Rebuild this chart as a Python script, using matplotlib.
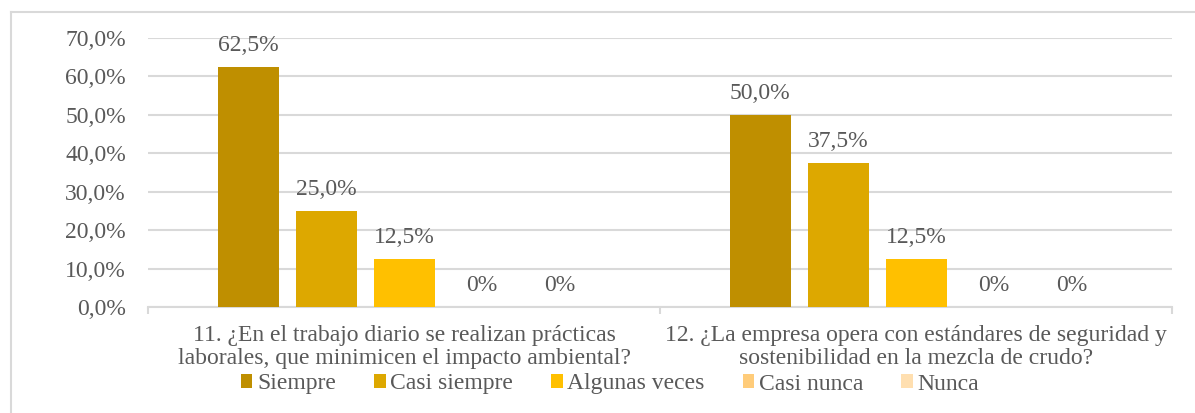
import matplotlib
matplotlib.use('Agg')
import matplotlib.pyplot as plt
from matplotlib.lines import Line2D
from matplotlib.ticker import FuncFormatter, MultipleLocator
import numpy as np

plt.rcParams['font.family'] = ['Liberation Serif', 'DejaVu Serif']

# data
preguntas = ['11. ¿En el trabajo diario se realizan prácticas\nlaborales, que minimicen el impacto ambiental?',
             '12. ¿La empresa opera con estándares de seguridad y\nsostenibilidad en la mezcla de crudo?']
respuestas = ['Siempre', 'Casi siempre', 'Algunas veces', 'Casi nunca', 'Nunca']
siempre = [62.5, 50.0]
casi_siempre = [25.0, 37.5]
algunas_veces = [12.5, 12.5]
casi_nunca = [0.0, 0.0]
nunca = [0.0, 0.0]
series = [siempre, casi_siempre, algunas_veces, casi_nunca, nunca]
colores = ['#BF8F00', '#DDA800', '#FFC000', '#FFCC7A', '#FFDFB0']

TXT = '#595959'
GRID = '#D9D9D9'
FS = 17

fig = plt.figure(figsize=(11.95, 4.13), dpi=100)
ax = fig.add_axes([148/1195, 1-307/413, (1172-148)/1195, (307-38)/413])

x = np.arange(len(preguntas))
paso = 78/512
ancho = 61/512
for i, (vals, col, nom) in enumerate(zip(series, colores, respuestas)):
    pos = x + (i-2)*paso
    bars = ax.bar(pos, vals, width=ancho, color=col, label=nom, zorder=3)
    for b, v in zip(bars, vals):
        txt = '0%' if v == 0 else ('%.1f%%' % v).replace('.', ',')
        ax.annotate(txt, (b.get_x()+b.get_width()/2, v), xytext=(0, 8),
                    textcoords='offset points', ha='center', va='bottom',
                    fontsize=FS, color=TXT)

ax.set_xlim(-0.5, 1.5)
ax.set_ylim(0, 70)
ax.yaxis.set_major_locator(MultipleLocator(10))
ax.yaxis.set_major_formatter(FuncFormatter(lambda v, p: ('%.1f%%' % v).replace('.', ',')))
ax.grid(axis='y', color=GRID, linewidth=1.5, zorder=0)
for s in ['top', 'right', 'left']:
    ax.spines[s].set_visible(False)
ax.spines['bottom'].set_color(GRID)
ax.spines['bottom'].set_linewidth(1.5)
ax.set_xticks([-0.5, 0.5, 1.5], minor=False)
ax.set_xticklabels(['', '', ''])
ax.tick_params(axis='x', length=5, color=GRID, width=1.5)
ax.set_xticks(x, minor=True)
ax.set_xticklabels(preguntas, minor=True, fontsize=FS, color=TXT, linespacing=1.1)
ax.tick_params(axis='x', which='minor', length=0, pad=13)
ax.tick_params(axis='y', length=0, labelsize=FS, labelcolor=TXT, pad=16)

fig.legend(loc='center', bbox_to_anchor=(610/1195, 1-384/413), ncol=5, frameon=False,
           fontsize=FS, labelcolor=TXT, handlelength=0.5, handleheight=0.5,
           handletextpad=0.2, columnspacing=1.6, borderpad=0)

# borde del grafico
fig.add_artist(Line2D([11/1195, 11/1195], [0, 1-12/413], color=GRID, linewidth=1.5))
fig.add_artist(Line2D([11/1195, 1], [1-12/413, 1-12/413], color=GRID, linewidth=1.5))

fig.savefig('out.png', dpi=100)
